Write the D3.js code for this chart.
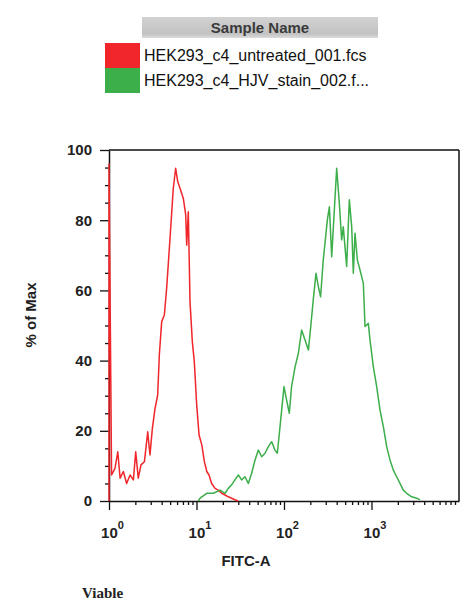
<!DOCTYPE html>
<html><head><meta charset="utf-8">
<script src="https://cdn.jsdelivr.net/npm/d3@7"></script>
<style>body{margin:0;background:#fff}svg{display:block}</style>
</head><body><svg id="c" width="466" height="603"></svg>
<script>
const legendTitle = "Sample Name";
const sampleNames = ["HEK293_c4_untreated_001.fcs", "HEK293_c4_HJV_stain_002.f..."];
const seriesColors = ["#f0262a", "#3cae4a"];
const xAxisLabel = "FITC-A";
const yAxisLabel = "% of Max";
const footerLabel = "Viable";
const yTicks = [0, 20, 40, 60, 80, 100];
const yMinorTicks = [5, 10, 15, 25, 30, 35, 45, 50, 55, 65, 70, 75, 85, 90, 95];
const xTickExponents = [0, 1, 2, 3];
const xMinorTicks = [2,3,4,5,6,7,8,9,20,30,40,50,60,70,80,90,200,300,400,500,600,700,800,900,2000,3000,4000,5000,6000,7000,8000,9000];

// [FITC-A, % of Max]
const untreatedData = [
  [1,0],[1,96],[1.07,7.4],[1.17,9.3],[1.26,14.0],[1.34,6.5],[1.46,8.4],[1.59,5.0],[1.74,7.4],[1.90,6.0],
  [2.02,14.0],[2.16,6.5],[2.32,10.3],[2.54,11.2],[2.77,19.7],[2.94,13.1],[3.13,20.7],[3.36,26.4],[3.60,30.2],
  [3.76,41.6],[4.00,51.1],[4.29,53.0],[4.56,60.6],[4.98,74.8],[5.43,89.1],[5.78,94.8],[6.10,91.0],[6.48,89.1],
  [7.07,86.2],[7.53,81.5],[7.73,72.9],[8.06,82.4],[8.43,56.8],[8.96,45.4],[9.44,39.7],[10.05,27.4],[10.7,18.8],
  [11.5,16.0],[12.3,11.2],[13.1,8.4],[13.9,7.4],[14.9,5.0],[16.3,3.6],[17.7,3.1],[19.4,2.2],[21.2,1.7],
  [23.1,1.2],[25.2,0.8],[28,0.3],[30,0]
];
const stainedData = [
  [10.5,0],[11.0,0.8],[13.1,2.2],[15.6,2.2],[18.6,3.1],[21.2,2.2],[23.1,3.6],[25.2,4.6],[27.5,6.0],[30.1,7.4],
  [32.8,6.0],[35.8,6.9],[39.1,5.0],[42.7,7.9],[46.7,11.7],[50.9,14.5],[55.6,12.6],[60.7,13.6],[66.2,15.5],
  [72.3,16.9],[78.9,14.5],[83.9,13.6],[88.5,19.3],[94,25.9],[100,32.6],[107,28.8],[115,25.0],[122,32.6],
  [134,38.3],[146,42.1],[159,48.7],[174,45.9],[190,43.0],[202,49.7],[216,57.3],[232,64.9],[247,61.1],
  [262,58.2],[281,68.7],[294,73.4],[313,80.1],[330,83.8],[351,69.6],[400,94.8],[429,84.8],[456,74.4],
  [476,78.1],[520,66.8],[558,85.8],[594,78.1],[620,64.9],[648,76.3],[689,68.7],[739,65.8],[807,62.0],
  [843,49.7],[920,50.6],[961,45.9],[1049,38.3],[1146,32.6],[1251,25.9],[1366,21.2],[1491,15.5],[1627,11.7],
  [1776,8.8],[1939,6.9],[2117,5.0],[2310,3.1],[2522,2.2],[2880,1.2],[3290,0.8],[3580,0.3]
];
const series = [untreatedData, stainedData];

const svg = d3.select("#c");
const font = "'Liberation Sans', Arial, Helvetica, sans-serif";
svg.append("rect").attr("width",466).attr("height",603).attr("fill","#fff");

// Legend
const defs = svg.append("defs");
const grad = defs.append("linearGradient").attr("id","hdr").attr("x1",0).attr("x2",0).attr("y1",0).attr("y2",1);
grad.append("stop").attr("offset","0%").attr("stop-color","#d2d2d2");
grad.append("stop").attr("offset","80%").attr("stop-color","#c2c2c2");
grad.append("stop").attr("offset","100%").attr("stop-color","#dcdcdc");
const lg = svg.append("g");
lg.append("rect").attr("x",142).attr("y",17).attr("width",236).attr("height",21).attr("fill","url(#hdr)");
lg.append("text").attr("x",260).attr("y",33).attr("text-anchor","middle")
  .attr("font-family",font).attr("font-weight","bold").attr("font-size",15).attr("fill","#3a3a3a").text(legendTitle);
const rowY = d3.scaleBand().domain(sampleNames).range([43,93]);
sampleNames.forEach((n,i)=>{
  lg.append("rect").attr("x",105).attr("y",rowY(n)).attr("width",35).attr("height",rowY.bandwidth()).attr("fill",seriesColors[i]);
  lg.append("text").attr("x",144).attr("y",rowY(n)+rowY.bandwidth()/2+5.5)
    .attr("font-family",font).attr("font-size",16).attr("fill","#111").text(n);
});

// Plot
const m = {left:109, top:150, right:459, bottom:501};
const x = d3.scaleLog().domain([1,1e4]).range([m.left,m.right]);
const y = d3.scaleLinear().domain([0,100]).range([m.bottom,m.top]);

const axStyle = g => { g.selectAll("path,line").attr("stroke","#111").attr("stroke-width",1.3); g.select(".domain").attr("stroke-width",1.5); };

svg.append("g").attr("transform",`translate(${m.left},0)`)
  .call(d3.axisLeft(y).tickValues(yMinorTicks).tickSize(4).tickFormat(""))
  .call(g=>g.select(".domain").remove()).call(axStyle);
const ya = svg.append("g").attr("transform",`translate(${m.left},0)`)
  .call(d3.axisLeft(y).tickValues(yTicks).tickSize(9).tickSizeOuter(0).tickPadding(8))
  .call(axStyle);
ya.selectAll("text").attr("font-family",font).attr("font-weight","bold").attr("font-size",15).attr("fill","#222");

svg.append("g").attr("transform",`translate(0,${m.bottom})`)
  .call(d3.axisBottom(x).tickValues(xMinorTicks).tickSize(4).tickFormat(""))
  .call(g=>g.select(".domain").remove()).call(axStyle);
const xa = svg.append("g").attr("transform",`translate(0,${m.bottom})`)
  .call(d3.axisBottom(x).tickValues(xTickExponents.map(e=>Math.pow(10,e))).tickSize(9).tickSizeOuter(0).tickFormat(""))
  .call(axStyle);
xa.selectAll(".tick").each(function(d,i){
  const t = d3.select(this).append("text").attr("y",37).attr("x",3).attr("text-anchor","middle")
    .attr("font-family",font).attr("font-weight","bold").attr("font-size",15).attr("fill","#222");
  t.append("tspan").text("10");
  t.append("tspan").attr("dy",-9).attr("font-size",11).text(String(xTickExponents[i]));
});

// top/right frame
svg.append("line").attr("x1",m.left).attr("x2",m.right).attr("y1",m.top).attr("y2",m.top).attr("stroke","#111").attr("stroke-width",1.5);
svg.append("line").attr("x1",m.right).attr("x2",m.right).attr("y1",m.top).attr("y2",m.bottom).attr("stroke","#111").attr("stroke-width",1.5);

// Series
const line = d3.line().x(d=>x(d[0])).y(d=>y(d[1]));
series.forEach((s,i)=>{
  svg.append("path").datum(s).attr("d",line).attr("fill","none")
    .attr("stroke",seriesColors[i]).attr("stroke-width",1.5).attr("stroke-linejoin","round");
});

// Axis labels
svg.append("text").attr("x",246).attr("y",566).attr("text-anchor","middle")
  .attr("font-family",font).attr("font-weight","bold").attr("font-size",15).attr("fill","#222").text(xAxisLabel);
svg.append("text").attr("transform","translate(36,315) rotate(-90)").attr("text-anchor","middle")
  .attr("font-family",font).attr("font-weight","bold").attr("font-size",15).attr("fill","#222").text(yAxisLabel);
svg.append("text").attr("x",82).attr("y",598)
  .attr("font-family","'Liberation Serif','Times New Roman',serif").attr("font-weight","bold").attr("font-size",15).attr("fill","#222").text(footerLabel);
</script></body></html>
